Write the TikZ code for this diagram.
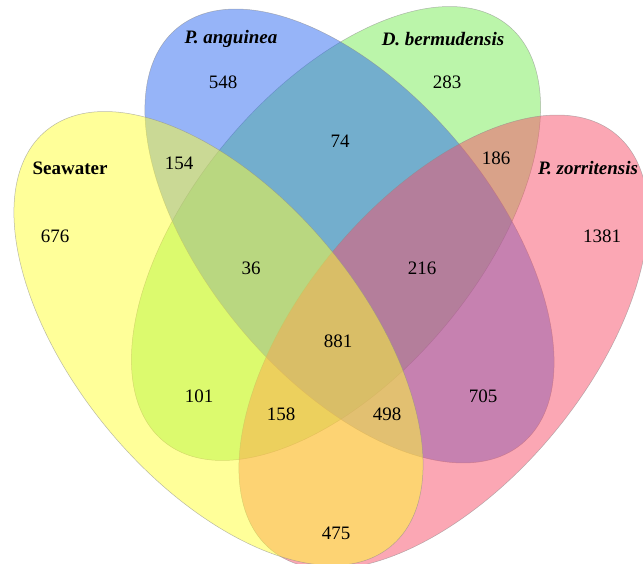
\documentclass[tikz,border=0pt]{standalone}
\usepackage{fontspec}
\setmainfont{Liberation Serif}
\definecolor{cyel}{RGB}{255,255,51}
\definecolor{cblu}{RGB}{45,105,241}
\definecolor{cgrn}{RGB}{119,235,85}
\definecolor{cpnk}{RGB}{247,79,105}
\begin{document}
\begin{tikzpicture}[x=1pt,y=1pt,
  setshape/.style={fill=#1, fill opacity=0.5, draw=black!45, draw opacity=0.6, line width=0.5pt},
  num/.style={font=\fontsize{19}{22}\selectfont, inner sep=0pt},
  ttl/.style={font=\fontsize{19}{22}\selectfont\bfseries\itshape, inner sep=0pt},
  ttlu/.style={font=\fontsize{19}{22}\selectfont\bfseries, inner sep=0pt}]
\useasboundingbox (0,0) rectangle (643,564);
\begin{scope}
\clip (0,0) rectangle (643,564);
% draw order: green, blue, pink, yellow
\path[setshape=cgrn, rotate around={50.3:(336,330.5)}] (336,330.5) ellipse [x radius=270, y radius=143];
\path[setshape=cblu, rotate around={-50.3:(349.5,328)}] (349.5,328) ellipse [x radius=270, y radius=143];
\path[setshape=cpnk, rotate around={50.3:(443.5,222)}] (443.5,222) ellipse [x radius=270, y radius=143];
\path[setshape=cyel, rotate around={-50.3:(218.5,225.5)}] (218.5,225.5) ellipse [x radius=270, y radius=143];
\end{scope}
% titles
\node[ttl] (tA) at (231,525) {P. anguinea};
\node[ttl] (tB) at (443,525) {D. bermudensis};
\node[ttlu] (tS) at (70,396) {Seawater};
\node[ttl] (tZ) at (588,396) {P. zorritensis};
% counts
\node[num] (n548) at (223,482) {548};
\node[num] (n283) at (447,482) {283};
\node[num] (n74) at (340,423) {74};
\node[num] (n154) at (179,401) {154};
\node[num] (n186) at (496,406) {186};
\node[num] (n676) at (55,328) {676};
\node[num] (n1381) at (602,328) {1381};
\node[num] (n36) at (251,296) {36};
\node[num] (n216) at (422,296) {216};
\node[num] (n881) at (338,223) {881};
\node[num] (n101) at (199,168) {101};
\node[num] (n705) at (483,168) {705};
\node[num] (n158) at (281,150) {158};
\node[num] (n498) at (387,150) {498};
\node[num] (n475) at (336,31) {475};
\end{tikzpicture}
\end{document}
